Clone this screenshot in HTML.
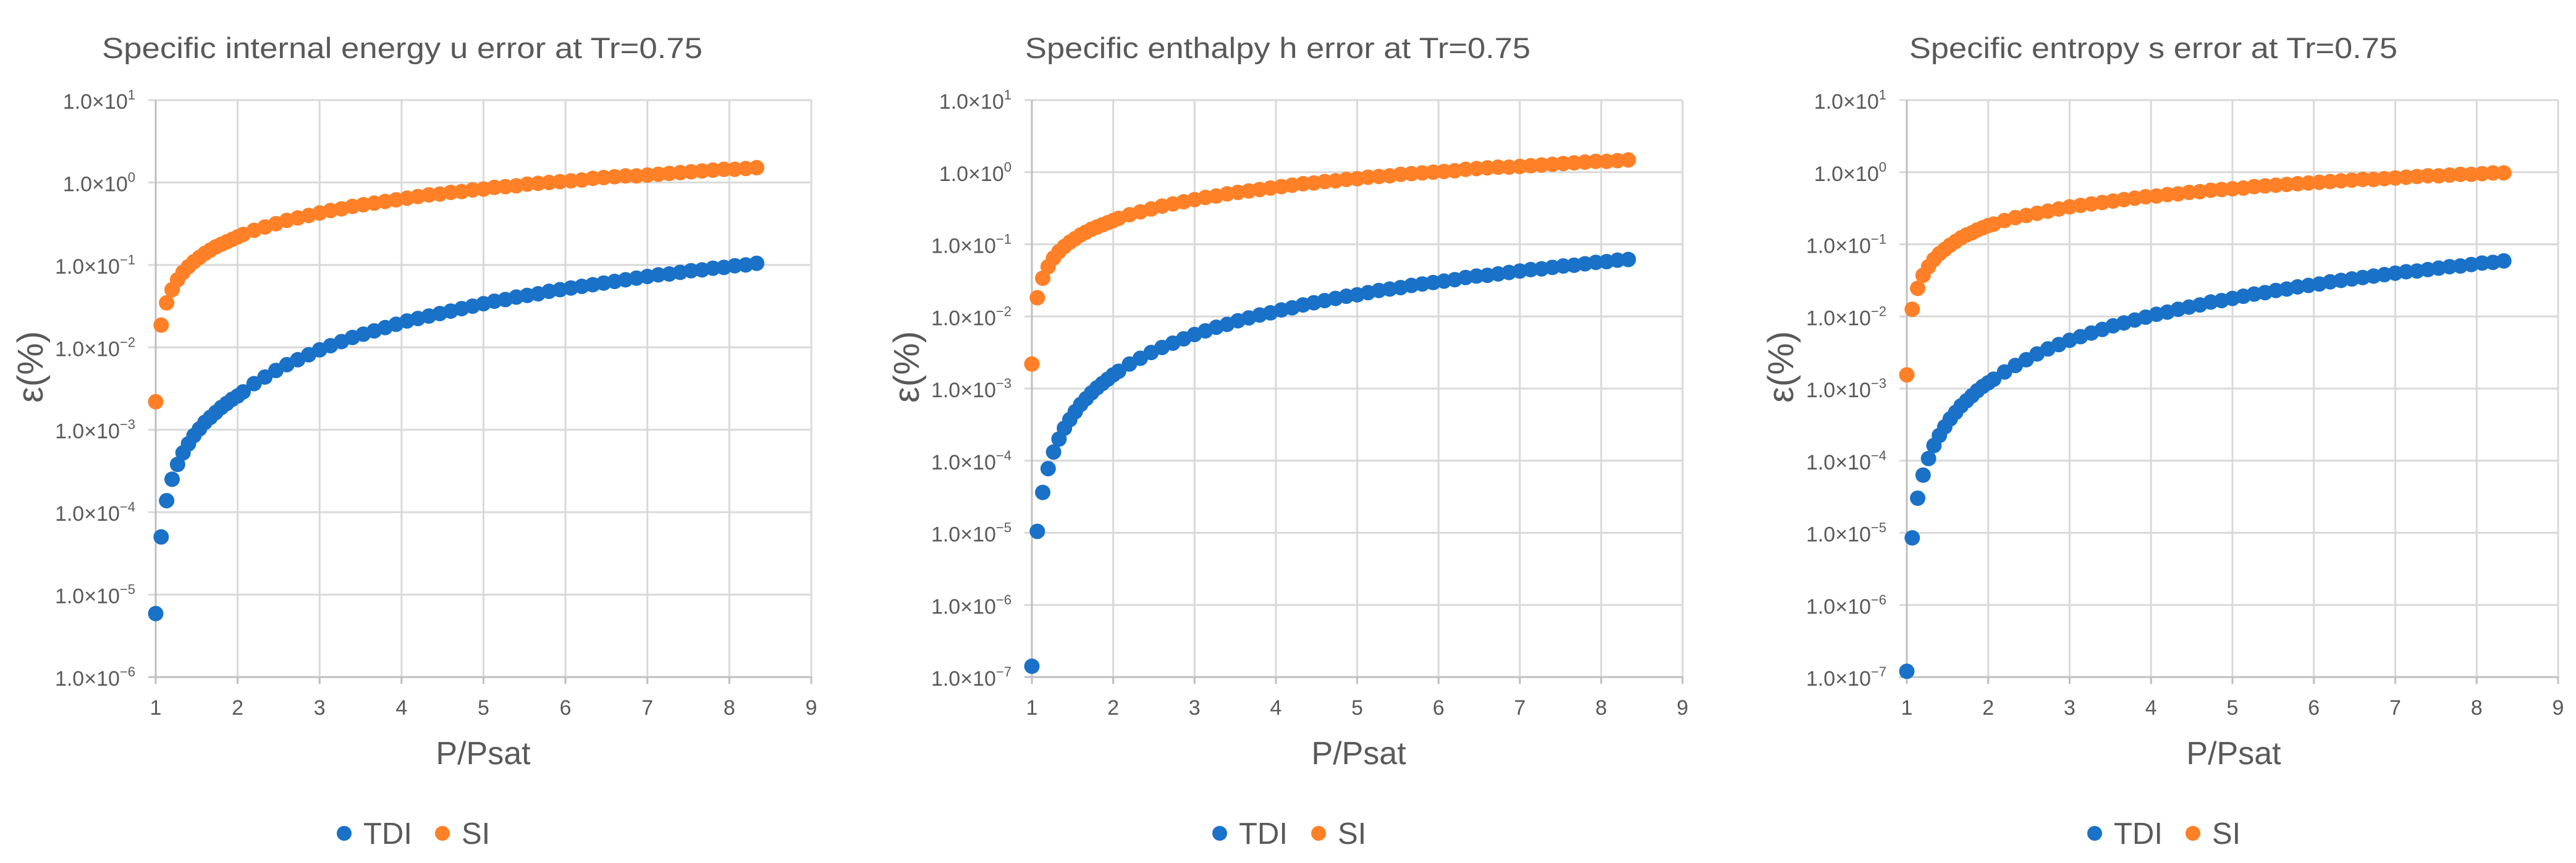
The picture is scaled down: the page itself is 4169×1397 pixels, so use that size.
<!DOCTYPE html>
<html><head><meta charset="utf-8"><style>
html,body{margin:0;padding:0;background:#fff;}
svg{display:block;font-family:"Liberation Sans",sans-serif;}
</style></head><body>
<svg id="chart" width="4169" height="1397" viewBox="0 0 4169 1397" xmlns="http://www.w3.org/2000/svg"></svg>
<script>
// Shared x values (P/Psat)
const xValues = [1,1.0667,1.1333,1.2,1.2667,1.3333,1.4,1.4667,1.5333,1.6,1.6667,1.7333,1.8,1.8667,1.9333,2,
2.0667,2.2,2.3333,2.4667,2.6,2.7333,2.8667,3,3.1333,3.2667,3.4,3.5333,3.6667,3.8,3.9333,4.0667,4.2,4.3333,4.4667,4.6,4.7333,4.8667,5,5.1333,5.2667,5.4,5.5333,5.6667,5.8,5.9333,6.0667,6.2,6.3333,6.4667,6.6,6.7333,6.8667,7,7.1333,7.2667,7.4,7.5333,7.6667,7.8,7.9333,8.0667,8.2,8.3333];
const xTicks = [1,2,3,4,5,6,7,8,9];
// log10 of error (%) for each series
const uTDI = [-5.23,-4.30,-3.86,-3.60,-3.42,-3.28,-3.17,-3.07,-2.99,-2.91,-2.85,-2.79,-2.73,-2.68,-2.63,-2.59,
-2.54,-2.44,-2.36,-2.28,-2.21,-2.15,-2.09,-2.03,-1.98,-1.93,-1.88,-1.84,-1.80,-1.76,-1.72,-1.68,-1.65,-1.62,-1.59,-1.56,-1.53,-1.50,-1.47,-1.44,-1.42,-1.39,-1.37,-1.35,-1.32,-1.30,-1.28,-1.26,-1.24,-1.22,-1.20,-1.18,-1.16,-1.14,-1.12,-1.11,-1.09,-1.07,-1.06,-1.04,-1.03,-1.01,-1.00,-0.98];
const uSI = [-2.66,-1.73,-1.46,-1.30,-1.18,-1.09,-1.02,-0.96,-0.91,-0.86,-0.82,-0.78,-0.75,-0.72,-0.69,-0.66,
-0.63,-0.58,-0.54,-0.50,-0.46,-0.43,-0.40,-0.37,-0.34,-0.32,-0.29,-0.27,-0.25,-0.23,-0.21,-0.19,-0.17,-0.15,-0.14,-0.12,-0.11,-0.09,-0.08,-0.06,-0.05,-0.04,-0.02,-0.01,0.00,0.01,0.02,0.03,0.05,0.06,0.07,0.08,0.08,0.09,0.10,0.11,0.12,0.13,0.14,0.15,0.16,0.16,0.17,0.18];
const hTDI = [-6.85,-4.98,-4.44,-4.11,-3.88,-3.70,-3.55,-3.43,-3.32,-3.22,-3.14,-3.06,-2.99,-2.93,-2.87,-2.81,
-2.76,-2.66,-2.58,-2.50,-2.43,-2.37,-2.31,-2.25,-2.20,-2.15,-2.11,-2.06,-2.02,-1.98,-1.95,-1.91,-1.88,-1.84,-1.81,-1.78,-1.75,-1.72,-1.70,-1.67,-1.64,-1.62,-1.60,-1.57,-1.55,-1.53,-1.51,-1.49,-1.46,-1.44,-1.43,-1.41,-1.39,-1.37,-1.35,-1.34,-1.32,-1.30,-1.29,-1.27,-1.25,-1.24,-1.22,-1.21];
const hSI = [-2.66,-1.74,-1.47,-1.31,-1.19,-1.10,-1.03,-0.97,-0.92,-0.87,-0.83,-0.79,-0.76,-0.73,-0.70,-0.67,
-0.64,-0.59,-0.55,-0.51,-0.47,-0.44,-0.41,-0.38,-0.35,-0.33,-0.30,-0.28,-0.26,-0.24,-0.22,-0.20,-0.18,-0.16,-0.15,-0.13,-0.12,-0.10,-0.09,-0.07,-0.06,-0.05,-0.03,-0.02,-0.01,0.00,0.01,0.02,0.04,0.05,0.06,0.07,0.07,0.08,0.09,0.10,0.11,0.12,0.13,0.14,0.15,0.15,0.16,0.17];
const sTDI = [-6.92,-5.07,-4.52,-4.20,-3.97,-3.79,-3.65,-3.53,-3.42,-3.33,-3.24,-3.17,-3.10,-3.03,-2.97,-2.92,
-2.87,-2.77,-2.68,-2.60,-2.52,-2.45,-2.39,-2.33,-2.28,-2.23,-2.18,-2.13,-2.09,-2.05,-2.01,-1.97,-1.94,-1.90,-1.87,-1.84,-1.80,-1.78,-1.75,-1.72,-1.69,-1.67,-1.64,-1.62,-1.59,-1.57,-1.55,-1.52,-1.50,-1.48,-1.46,-1.44,-1.42,-1.40,-1.38,-1.37,-1.35,-1.33,-1.31,-1.30,-1.28,-1.26,-1.25,-1.23];
const sSI = [-2.81,-1.90,-1.61,-1.43,-1.31,-1.21,-1.13,-1.07,-1.01,-0.96,-0.91,-0.87,-0.84,-0.80,-0.77,-0.74,
-0.72,-0.67,-0.63,-0.60,-0.57,-0.54,-0.51,-0.48,-0.46,-0.44,-0.42,-0.40,-0.38,-0.36,-0.34,-0.33,-0.31,-0.30,-0.28,-0.27,-0.25,-0.24,-0.23,-0.22,-0.20,-0.19,-0.18,-0.17,-0.16,-0.15,-0.14,-0.13,-0.12,-0.11,-0.10,-0.10,-0.09,-0.08,-0.07,-0.06,-0.05,-0.05,-0.04,-0.03,-0.03,-0.02,-0.01,-0.01];
const titles = ["Specific internal energy u error at Tr=0.75","Specific enthalpy h error at Tr=0.75","Specific entropy s error at Tr=0.75"];
const yMinExp = [-6,-7,-7];
const yMaxExp = 1;

const NS = "http://www.w3.org/2000/svg";
const svg = document.getElementById('chart');
function mk(tag, attrs, parent){const e=document.createElementNS(NS,tag);for(const k in attrs)e.setAttribute(k,attrs[k]);(parent||svg).appendChild(e);return e;}

const layout = [
 {L:252,R:1313,T:162,B:1096,titleX:651,titleW:972,yTitleX:49,xTitleX:782,leg:[557,716]},
 {L:1670,R:2723,T:162,B:1096,titleX:2068,titleW:818,yTitleX:1467,xTitleX:2199,leg:[1974,2134]},
 {L:3086,R:4140,T:162,B:1096,titleX:3485,titleW:790,yTitleX:2882,xTitleX:3615,leg:[3390,3549]}
];
const seriesData = [[uTDI,uSI],[hTDI,hSI],[sTDI,sSI]];
const colors = ["#1971c8","#ff8026"];
const names = ["TDI","SI"];

layout.forEach((p,pi)=>{
  const g = mk('g',{});
  
  
  const ymin=yMinExp[pi];
  const xs = v => p.L + (v-1)/(8)*(p.R-p.L);
  const ys = v => p.B - (v-ymin)/(yMaxExp-ymin)*(p.B-p.T);
  const t = mk('text',{x:p.titleX,y:94,'text-anchor':'middle','font-size':47,fill:'#595959',textLength:p.titleW,lengthAdjust:'spacingAndGlyphs'},g);
  t.textContent=titles[pi];
  
  
  for(let e=ymin;e<=yMaxExp;e++){
    const y=ys(e);
    const gl = mk('line',{x1:p.L-12,x2:p.R,y1:y,y2:y,stroke:e===ymin?'#bfbfbf':'#d9d9d9','stroke-width':3},g);
    
    
    const lab = mk('text',{x:p.L-33,y:y+14,'text-anchor':'end','font-size':34,fill:'#595959'},g);
    
    
    const base = document.createElementNS(NS,'tspan'); base.textContent='1.0×10'; lab.appendChild(base);
    const sup = document.createElementNS(NS,'tspan'); sup.setAttribute('dy','-15'); sup.setAttribute('font-size','22');
    sup.textContent = e<0 ? '−'+(-e) : String(e); lab.appendChild(sup);
  }
  xTicks.forEach(v=>{
    const x=xs(v);
    const gl = mk('line',{x1:x,x2:x,y1:p.T,y2:p.B+11,stroke:v===1?'#bfbfbf':'#d9d9d9','stroke-width':3},g);
    
    
    if(v!==1){ mk('line',{x1:x,x2:x,y1:p.B-1,y2:p.B+11,stroke:'#bfbfbf','stroke-width':3},g); }
    const lab = mk('text',{x:x,y:1157,'text-anchor':'middle','font-size':34,fill:'#595959'},g);
    lab.textContent=String(v);
    
    
  });
  const xt = mk('text',{x:p.xTitleX,y:1237,'text-anchor':'middle','font-size':52,fill:'#595959'},g);
  xt.textContent='P/Psat';
  
  
  const yt = mk('text',{x:0,y:0,'text-anchor':'middle','font-size':58,fill:'#595959',transform:`translate(${p.yTitleX+20},594) rotate(-90)`},g);
  yt.textContent='ε(%)';
  
  
  seriesData[pi].forEach((arr,si)=>{
    const sg = mk('g',{fill:colors[si]},g);
    
    
    arr.forEach((lv,i)=>{
      const c = mk('circle',{cx:xs(xValues[i]),cy:ys(lv),r:12.5},sg);
      
      
    });
  });
  names.forEach((n,si)=>{
    const lg = mk('g',{},g);
    
    
    mk('circle',{cx:p.leg[si],cy:1349,r:12,fill:colors[si]},lg);
    const lt = mk('text',{x:p.leg[si]+31,y:1366,'font-size':49,fill:'#595959'},lg);
    lt.textContent=n;
  });
});
</script>
</body></html>
